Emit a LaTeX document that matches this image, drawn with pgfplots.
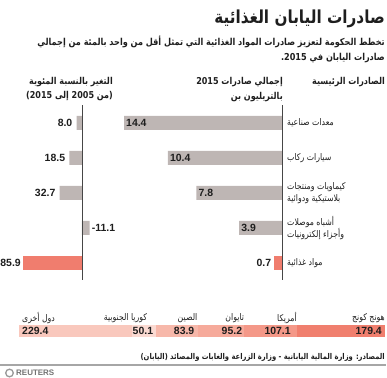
\documentclass[border=0pt]{standalone}
\usepackage{fontspec}
\setmainfont{Liberation Sans}
\newfontfamily\arfont[Script=Arabic, FakeStretch=0.85]{DejaVu Sans}
\usepackage{pgfplots}
\pgfplotsset{compat=1.18}
\TeXXeTstate=1
\definecolor{barg}{RGB}{190,182,180}
\definecolor{salmon}{RGB}{240,125,110}
\definecolor{chk}{RGB}{240,127,110}
\definecolor{cus}{RGB}{244,152,136}
\definecolor{ctw}{RGB}{246,170,155}
\definecolor{ccn}{RGB}{247,184,170}
\definecolor{ckr}{RGB}{251,218,210}
\definecolor{cot}{RGB}{249,200,189}
\definecolor{txt}{RGB}{30,30,30}
\definecolor{axl}{RGB}{70,70,70}
\newcommand{\numfont}{\bfseries\fontsize{10.5}{12}\selectfont}
\newcommand{\arlab}{\arfont\fontsize{9.2}{12.5}\selectfont}
\newcommand{\arhead}{\arfont\bfseries\fontsize{9.5}{12}\selectfont}
\tikzset{vl/.style={inner sep=0pt, text=txt, font=\numfont},
         cl/.style={inner sep=0pt, text=txt, font=\arlab, anchor=east}}
\begin{document}
\begin{tikzpicture}
\useasboundingbox (0,0) rectangle (387bp,378bp);
% title and subtitle
\node[anchor=east, inner sep=0pt, text=txt, font=\arfont\bfseries\fontsize{18}{22}\selectfont] at (385bp,359bp) {\beginR صادرات اليابان الغذائية\endR};
\node[anchor=east, inner sep=0pt, text=txt, font=\arfont\bfseries\fontsize{9.6}{12}\selectfont] at (385bp,336bp) {\beginR تخطط الحكومة لتعزيز صادرات المواد الغذائية التي تمثل أقل من واحد بالمئة من إجمالي\endR};
\node[anchor=east, inner sep=0pt, text=txt, font=\arfont\bfseries\fontsize{9.6}{12}\selectfont] at (385bp,320bp) {\beginR صادرات اليابان في 2015.\endR};
% headers
\node[anchor=east, inner sep=0pt, text=txt, font=\arhead] at (385bp,296bp) {\beginR الصادرات الرئيسية\endR};
\node[anchor=east, inner sep=0pt, text=txt, font=\arhead] at (283bp,296bp) {\beginR إجمالي صادرات 2015\endR};
\node[anchor=east, inner sep=0pt, text=txt, font=\arhead] at (283bp,281bp) {\beginR بالتريليون بن\endR};
\node[anchor=east, inner sep=0pt, text=txt, font=\arhead] at (113bp,296bp) {\beginR التغير بالنسبة المئوية\endR};
\node[anchor=east, inner sep=0pt, text=txt, font=\arhead] at (113bp,282bp) {\beginR (من 2005 إلى 2015)\endR};

% right chart: totals
\begin{axis}[at={(124bp,272.5bp)}, anchor=north west, scale only axis,
  width=158bp, height=175bp, xmin=0, xmax=14.4, x dir=reverse,
  ymin=-0.5, ymax=4.5, y dir=reverse, axis lines=none, clip=false]
\addplot[xbar, bar width=14bp, bar shift=0pt, fill=barg, draw=none] coordinates {(14.4,0) (10.4,1) (7.8,2) (3.9,3)};
\addplot[xbar, bar width=14bp, bar shift=0pt, fill=salmon, draw=none] coordinates {(0.7,4)};
\addplot[draw=none, mark=none, nodes near coords, point meta=explicit symbolic,
  nodes near coords style={anchor=west, xshift=2bp, inner sep=0pt, font=\numfont, text=txt}]
  coordinates {(14.4,0) [14.4] (10.4,1) [10.4] (7.8,2) [7.8] (3.9,3) [3.9]};
\addplot[draw=none, mark=none, nodes near coords, point meta=explicit symbolic,
  nodes near coords style={anchor=east, xshift=-3bp, inner sep=0pt, font=\numfont, text=txt}]
  coordinates {(0.7,4) [0.7]};
\draw[axl, line width=0.8pt] (axis cs:0,-0.5) -- (axis cs:0,4.5);
\node[anchor=west, inner sep=0pt, text=txt, font=\arlab] at (axis cs:0,0) [xshift=5bp] {\beginR معدات صناعية\endR};
\node[anchor=west, inner sep=0pt, text=txt, font=\arlab] at (axis cs:0,1) [xshift=5bp] {\beginR سيارات ركاب\endR};
\node[anchor=west, inner sep=0pt, text=txt, font=\arlab, align=left] at (axis cs:0,2) [xshift=5bp] {\beginR كيماويات ومنتجات\endR\\\beginR بلاستيكية ودوائية\endR};
\node[anchor=west, inner sep=0pt, text=txt, font=\arlab, align=left] at (axis cs:0,3) [xshift=5bp] {\beginR أشباه موصلات\endR\\\beginR وأجزاء إلكترونيات\endR};
\node[anchor=west, inner sep=0pt, text=txt, font=\arlab] at (axis cs:0,4) [xshift=5bp] {\beginR مواد غذائية\endR};
\end{axis}

% left chart: percent change
\begin{axis}[at={(13.3bp,272.5bp)}, anchor=north west, scale only axis,
  width=82.44bp, height=175bp, xmin=-20, xmax=100, x dir=reverse,
  ymin=-0.5, ymax=4.5, y dir=reverse, axis lines=none, clip=false]
\addplot[xbar, bar width=14bp, bar shift=0pt, fill=barg, draw=none] coordinates {(8.0,0) (18.5,1) (32.7,2) (-11.1,3)};
\addplot[xbar, bar width=14bp, bar shift=0pt, fill=salmon, draw=none] coordinates {(85.9,4)};
\addplot[draw=none, mark=none, nodes near coords, point meta=explicit symbolic,
  nodes near coords style={anchor=east, xshift=-4bp, inner sep=0pt, font=\numfont, text=txt}]
  coordinates {(8.0,0) [8.0] (18.5,1) [18.5] (32.7,2) [32.7]};
\addplot[draw=none, mark=none, nodes near coords, point meta=explicit symbolic,
  nodes near coords style={anchor=east, xshift=-2bp, inner sep=0pt, font=\numfont, text=txt}]
  coordinates {(85.9,4) [85.9]};
\addplot[draw=none, mark=none, nodes near coords, point meta=explicit symbolic,
  nodes near coords style={anchor=west, xshift=2bp, inner sep=0pt, font=\numfont, text=txt}]
  coordinates {(-11.1,3) [-11.1]};
\draw[axl, line width=0.8pt] (axis cs:0,-0.5) -- (axis cs:0,4.5);
\end{axis}

% bottom stacked bar: destinations
\begin{axis}[at={(19bp,53bp)}, anchor=north west, scale only axis,
  width=366bp, height=12bp, xmin=0, xmax=745.1, x dir=reverse,
  ymin=-0.5, ymax=0.5, axis lines=none, clip=false]
\addplot[xbar stacked, bar width=12bp, fill=chk, draw=none] coordinates {(179.4,0)};
\addplot[xbar stacked, bar width=12bp, fill=cus, draw=none] coordinates {(107.1,0)};
\addplot[xbar stacked, bar width=12bp, fill=ctw, draw=none] coordinates {(95.2,0)};
\addplot[xbar stacked, bar width=12bp, fill=ccn, draw=none] coordinates {(83.9,0)};
\addplot[xbar stacked, bar width=12bp, fill=ckr, draw=none] coordinates {(50.1,0)};
\addplot[xbar stacked, bar width=12bp, fill=cot, draw=none] coordinates {(229.4,0)};
\node[vl, anchor=east, xshift=-3bp] at (axis cs:0,0) {179.4};
\node[vl, anchor=east, xshift=-6bp] at (axis cs:179.4,0) {107.1};
\node[vl, anchor=east, xshift=-2bp] at (axis cs:286.5,0) {95.2};
\node[vl, anchor=east, xshift=-3bp] at (axis cs:381.7,0) {83.9};
\node[vl, anchor=east, xshift=-3bp] at (axis cs:465.6,0) {50.1};
\node[vl, anchor=west, xshift=3bp] at (axis cs:745.1,0) {229.4};
\node[cl] at (axis cs:0,1.08) {\beginR هونج كونج\endR};
\node[cl] at (axis cs:179.4,1.08) {\beginR أمريكا\endR};
\node[cl] at (axis cs:286.5,1.08) {\beginR تايوان\endR};
\node[cl] at (axis cs:381.7,1.08) {\beginR الصين\endR};
\node[cl, xshift=-9bp] at (axis cs:465.6,1.08) {\beginR كوريا الجنوبية\endR};
\node[cl, anchor=west, xshift=3bp] at (axis cs:745.1,1.08) {\beginR دول أخرى\endR};
\end{axis}

% source and footer
\node[anchor=east, inner sep=0pt, text=txt, font=\arfont\bfseries\fontsize{8}{10}\selectfont] at (385bp,21bp) {\beginR المصادر: وزارة المالية اليابانية - وزارة الزراعة والغابات والمصائد (اليابان)\endR};
\draw[gray!70, line width=1.5pt] (0,13bp) -- (386bp,13bp);
\draw[gray!80, line width=1.3pt] (9.5bp,5bp) circle (3.8bp);
\node[anchor=west, inner sep=0pt, text=gray!90!black, font=\bfseries\fontsize{8}{9}\selectfont] at (16bp,5bp) {REUTERS};
\end{tikzpicture}
\end{document}
